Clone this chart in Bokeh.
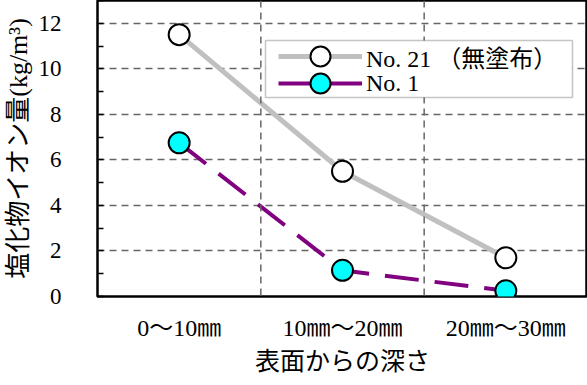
from bokeh.plotting import figure
from bokeh.models import (ColumnDataSource, FactorRange, Range1d, SingleIntervalTicker,
                          Span, Legend, LegendItem, BoxAnnotation)
from bokeh.embed import file_html
from bokeh.resources import INLINE

# ---- data ----
categories = ["0〜10㎜", "10㎜〜20㎜", "20㎜〜30㎜"]
no21_values = [11.5, 5.5, 1.7]
no1_values = [6.75, 1.15, 0.25]
series_names = ["No. 21 （無塗布）", "No. 1"]
y_title = "塩化物イオン量(kg/m³)"
x_title = "表面からの深さ"

FONT = "'Liberation Serif', 'Noto Sans CJK JP', serif"

p = figure(width=587, height=377, x_range=FactorRange(factors=categories, range_padding=0),
           y_range=Range1d(0, 13), output_backend="svg", toolbar_location=None,
           min_border=0, min_border_left=89, min_border_right=0, min_border_top=0,
           min_border_bottom=81)

p.outline_line_color = "black"
p.outline_line_width = 2.5
p.background_fill_color = "white"
p.border_fill_color = "white"

# grid
p.xgrid.grid_line_color = None
p.ygrid.grid_line_color = "#666666"
p.ygrid.grid_line_dash = "7 5"
p.ygrid.grid_line_width = 1.5
for loc in [1, 2]:
    p.add_layout(Span(location=loc, dimension="height", line_color="#666666",
                      line_dash="7 5", line_width=1.5))

# y axis
p.yaxis.ticker = SingleIntervalTicker(interval=2, num_minor_ticks=2)
p.yaxis.axis_line_color = None
p.yaxis.major_tick_line_color = None
p.yaxis.minor_tick_in = 6
p.yaxis.minor_tick_out = 0
p.yaxis.minor_tick_line_color = "black"
p.yaxis.minor_tick_line_width = 1.5
p.yaxis.major_label_standoff = 30
p.yaxis.major_label_text_font = FONT
p.yaxis.major_label_text_font_size = "23px"
p.yaxis.major_label_text_color = "black"
p.yaxis.axis_label = y_title
p.yaxis.axis_label_text_font = FONT
p.yaxis.axis_label_text_font_size = "26px"
p.yaxis.axis_label_text_font_style = "normal"
p.yaxis.axis_label_text_color = "black"
p.yaxis.axis_label_standoff = 3

# x axis
p.xaxis.axis_line_color = None
p.xaxis.major_tick_line_color = None
p.xaxis.minor_tick_line_color = None
p.xaxis.major_label_standoff = 12
p.xaxis.major_label_text_font = FONT
p.xaxis.major_label_text_font_size = "24px"
p.xaxis.major_label_text_color = "black"
p.xaxis.axis_label = x_title
p.xaxis.axis_label_text_font = FONT
p.xaxis.axis_label_text_font_size = "25px"
p.xaxis.axis_label_text_font_style = "normal"
p.xaxis.axis_label_text_color = "black"
p.xaxis.axis_label_standoff = 4

src = ColumnDataSource(dict(x=categories, no21=no21_values, no1=no1_values))

l21 = p.line("x", "no21", source=src, line_color="#c0c0c0", line_width=5)
s21 = p.scatter("x", "no21", source=src, size=21, fill_color="white",
                line_color="black", line_width=2)
l1 = p.line("x", "no1", source=src, line_color="#800080", line_width=4, line_dash="34 16")
s1 = p.scatter("x", "no1", source=src, size=21, fill_color="#00ffff",
               line_color="black", line_width=2)

# legend frame box
p.add_layout(BoxAnnotation(left=168, right=475, top=256, bottom=199,
                           left_units="screen", right_units="screen",
                           top_units="screen", bottom_units="screen",
                           fill_color="white", fill_alpha=1.0,
                           line_color="#404040", line_width=1.5, level="overlay"))

common = dict(padding=0, spacing=0, glyph_height=50, glyph_width=84, label_height=50,
              label_standoff=4, background_fill_alpha=0, border_line_color=None,
              label_text_font=FONT, label_text_font_size="24px",
              label_text_color="black", label_text_baseline="middle")
leg1 = Legend(items=[LegendItem(label=series_names[0], renderers=[l21, s21])],
              location=(181, 215), **common)
leg2 = Legend(items=[LegendItem(label=series_names[1], renderers=[l1, s1])],
              location=(181, 188), **common)
p.add_layout(leg1)
p.add_layout(leg2)

open("out.html", "w").write(file_html(p, INLINE))
